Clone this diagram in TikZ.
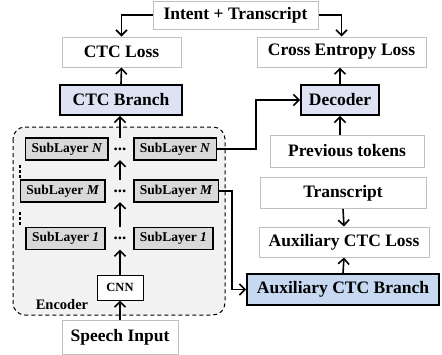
\documentclass[tikz,border=0pt]{standalone}
\usepackage{fontspec}
\setmainfont{Liberation Serif}
\usetikzlibrary{arrows.meta,positioning}

\definecolor{boxgray}{HTML}{BFBFBF}
\definecolor{branchblue}{HTML}{DDE3F3}
\definecolor{auxblue}{HTML}{C6D9F1}
\definecolor{layergray}{HTML}{D9D9D9}
\definecolor{encgray}{HTML}{F2F2F2}

\tikzset{
  bigfont/.style={font=\fontsize{17.5}{20}\selectfont\bfseries},
  txtbox/.style={draw=boxgray, line width=1pt, fill=white, bigfont, inner sep=0pt},
  branchbox/.style={draw=black, line width=1.8pt, fill=branchblue, bigfont, inner sep=0pt},
  sublayer/.style={draw=black, line width=1.6pt, fill=layergray, font=\fontsize{13.5}{16}\selectfont\bfseries, minimum height=22pt, inner xsep=6pt, inner ysep=0pt},
  rowdots/.style={minimum height=22pt, inner sep=0pt, font=\fontsize{17}{18}\selectfont\bfseries},
  arr/.style={-{Straight Barb[length=5.5pt,width=11pt]}, line width=1.6pt},
}

\begin{document}
\begin{tikzpicture}[x=1pt, y=-1pt]
    \useasboundingbox (0,0) rectangle (442,354);

    % Encoder background
    \draw[dash pattern=on 4pt off 3pt, line width=1pt, fill=encgray, rounded corners=12pt] (13,127) rectangle (225,315);

    % Top row: targets and losses
    \node[txtbox, minimum width=165pt, minimum height=28pt] (intent) at (235.5,15) {Intent + Transcript};
    \node[txtbox, minimum width=119pt, minimum height=30pt] (ctcloss) at (121.5,52) {CTC Loss};
    \node[txtbox, minimum width=169pt, minimum height=30pt] (celoss) at (341.5,52) {Cross Entropy Loss};

    % Branches
    \node[branchbox, minimum width=122pt, minimum height=30pt] (ctcbranch) at (121,100) {CTC Branch};
    \node[branchbox, minimum width=78pt, minimum height=30pt] (decoder) at (340,100) {Decoder};
    \node[txtbox, minimum width=154pt, minimum height=32pt] (prevtok) at (347,151) {Previous tokens};

    % Auxiliary side
    \node[txtbox, minimum width=166pt, minimum height=31pt] (transcript) at (343,193) {Transcript};
    \node[txtbox, minimum width=170pt, minimum height=30pt] (auxloss) at (344,242) {Auxiliary CTC Loss};
    \node[branchbox, fill=auxblue, minimum width=192pt, minimum height=31pt] (auxbranch) at (343,289.5) {Auxiliary CTC Branch};

    % Encoder sublayers
    \node[sublayer, anchor=east] (slNl) at (109,149) {SubLayer \textit{N}};
    \node[rowdots] (dotsN) at (120,149) {...};
    \node[sublayer, anchor=west] (slNr) at (133,149) {SubLayer \textit{N}};

    \node[sublayer, anchor=east] (slMl) at (106,191) {SubLayer \textit{M}};
    \node[rowdots] (dotsM) at (120,191) {...};
    \node[sublayer, anchor=west] (slMr) at (133,191) {SubLayer \textit{M}};

    \node[sublayer, anchor=east] (sl1l) at (106,238.5) {SubLayer \textit{1}};
    \node[rowdots] (dots1) at (120,238.5) {...};
    \node[sublayer, anchor=west] (sl1r) at (133,238.5) {SubLayer \textit{1}};

    % vertical dots on the left
    \foreach \y in {165,170,175,212,217,222}
        \fill (18.8,\y) rectangle +(2.6,2.6);

    \node[draw, line width=1pt, fill=white, font=\fontsize{12.5}{14}\selectfont\bfseries, minimum width=46pt, minimum height=25pt, inner sep=0pt] (cnn) at (120,287.5) {CNN};
    \node[font=\fontsize{14.5}{16}\selectfont\bfseries] (enclabel) at (62,305) {Encoder};

    % Input
    \node[txtbox, minimum width=116pt, minimum height=34pt] (speech) at (120,337) {Speech Input};

    % Bend points
    \coordinate (bendD) at (256,0);
    \coordinate (bendA) at (232,0);

    % Connectors
    \draw[arr] (intent.west) -| (ctcloss.north);
    \draw[arr] (intent.east) -| (celoss.north);
    \draw[arr] (ctcbranch.north) -- (ctcloss.south);
    \draw[arr] (decoder.north) -- (decoder.north |- celoss.south);
    \draw[arr] (decoder.south |- prevtok.north) -- (decoder.south);
    \draw[arr] (dotsN.north) -- (dotsN.north |- ctcbranch.south);
    \draw[arr] (dotsM.north) -- (dotsN.south);
    \draw[arr] (dots1.north) -- (dotsM.south);
    \draw[arr] (cnn.north) -- (dots1.south);
    \draw[arr] (speech.north) -- (cnn.south);
    \draw[arr] (slNr.east) -- (slNr.east -| bendD) |- (decoder.west);
    \draw[arr] (slMr.east) -- (slMr.east -| bendA) |- (auxbranch.west);
    \draw[arr] (transcript.south) -- (auxloss.north);
    \draw[arr] (auxbranch.north) -- (auxloss.south);
\end{tikzpicture}
\end{document}
